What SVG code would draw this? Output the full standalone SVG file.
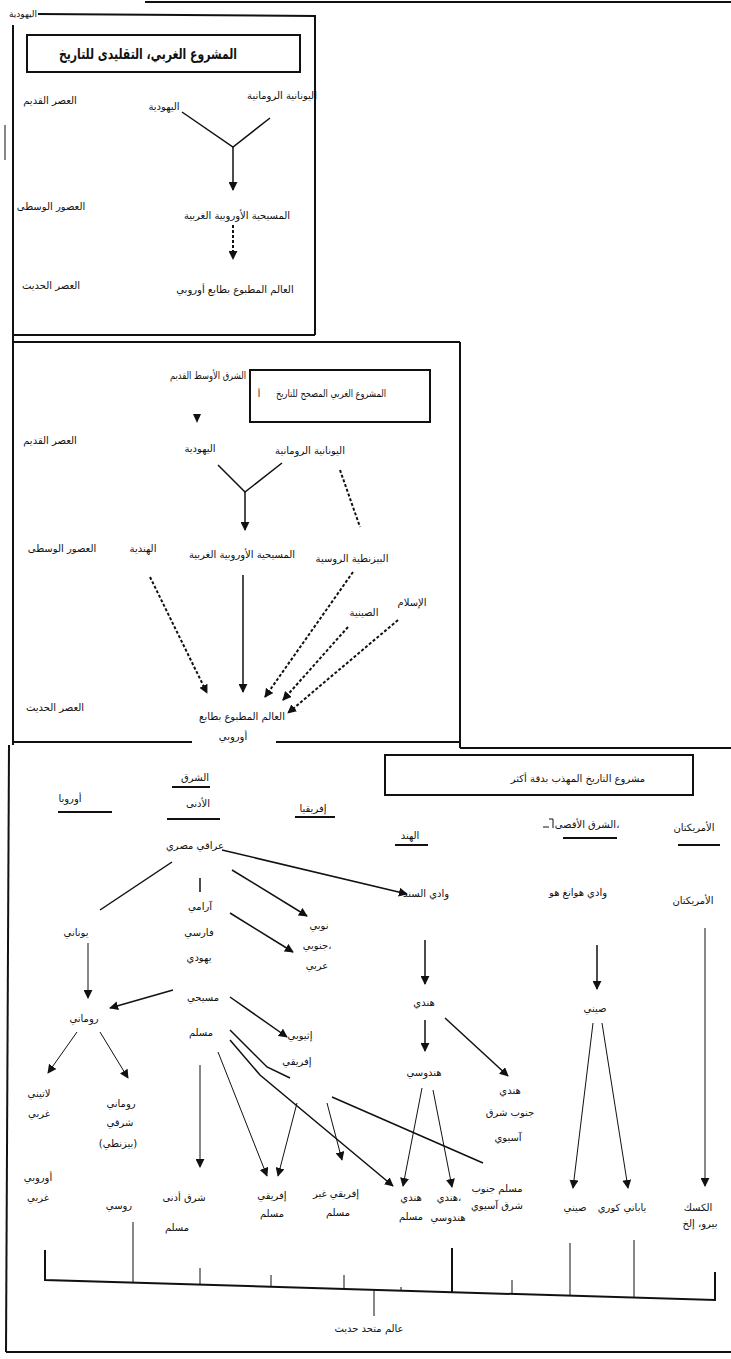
<svg xmlns="http://www.w3.org/2000/svg" width="731" height="1359" viewBox="0 0 731 1359">
<defs>
<style>
.t{font-family:"DejaVu Sans","Noto Sans",sans-serif;font-size:10px;fill:#111;text-anchor:middle}
.s{font-size:9px}
.ttl{font-size:15px;font-weight:bold}
.b{stroke:#111;stroke-width:2;fill:none}
.ln{stroke:#111;stroke-width:1.5;fill:none}
.thin{stroke:#111;stroke-width:1;fill:none}
.d{stroke-dasharray:3 2;stroke-width:2}
.ar{marker-end:url(#ah)}
</style>
<marker id="ah" viewBox="0 0 10 10" refX="9" refY="5" markerWidth="9" markerHeight="9" markerUnits="userSpaceOnUse" orient="auto">
<path d="M0,0 L10,5 L0,10 z" fill="#111"/>
</marker>
</defs>
<rect width="731" height="1359" fill="#fff"/>

<g id="frames">
<line class="b" x1="145" y1="2" x2="731" y2="2" stroke-width="3"/>
<polyline class="b" points="38,14 315,16 315,335"/>
<line class="b" x1="13" y1="25" x2="13" y2="745"/>
<line class="b" x1="13" y1="335" x2="315" y2="335"/>
<line class="thin" x1="5" y1="125" x2="5" y2="160"/>
<rect class="b" x="27" y="35" width="273" height="37"/>
<line class="b" x1="13" y1="342" x2="460" y2="342"/>
<line class="b" x1="460" y1="342" x2="460" y2="748"/>
<line class="b" x1="13" y1="742" x2="192" y2="742"/>
<line class="b" x1="276" y1="742" x2="460" y2="742"/>
<rect class="b" x="250" y="370" width="180" height="52"/>
<line class="b" x1="460" y1="748" x2="731" y2="748"/>
<line class="b" x1="9" y1="745" x2="6" y2="1352"/>
<line class="b" x1="6" y1="1352" x2="731" y2="1352"/>
<rect class="b" x="385" y="755" width="308" height="40"/>
</g>

<g id="top-panel">
<g id="n-yahud-top"><text class="t s" x="23" y="17">اليهودية</text></g>
<g id="n-title1"><text class="t ttl" x="148" y="59" textLength="178" lengthAdjust="spacingAndGlyphs">المشروع الغربي، التقليدى للتاريخ</text></g>
<g id="n-era1a"><text class="t" x="50" y="104">العصر القديم</text></g>
<g id="n-greco1"><text class="t" x="282" y="99">اليونانية الرومانية</text></g>
<g id="n-jud1"><text class="t" x="164" y="110">اليهودية</text></g>
<g id="n-era1b"><text class="t" x="51" y="210">العصور الوسطى</text></g>
<g id="n-chr1"><text class="t" x="237" y="219">المسيحية الأوروبية الغربية</text></g>
<g id="n-era1c"><text class="t" x="51" y="289">العصر الحديث</text></g>
<g id="n-world1"><text class="t" x="235" y="293">العالم المطبوع بطابع أوروبي</text></g>
</g>

<g id="middle-panel">
<g id="n-me"><text class="t" x="208" y="379" textLength="76" lengthAdjust="spacingAndGlyphs">الشرق الأوسط القديم</text></g>
<g id="n-title2"><text class="t" x="331" y="397" textLength="110" lengthAdjust="spacingAndGlyphs">المشروع الغربي المصحح للتاريخ</text><text class="t s" x="259" y="397">أ</text></g>
<g id="n-era2a"><text class="t" x="50" y="444">العصر القديم</text></g>
<g id="n-jud2"><text class="t" x="200" y="452">اليهودية</text></g>
<g id="n-greco2"><text class="t" x="310" y="454">اليونانية الرومانية</text></g>
<g id="n-era2b"><text class="t" x="62" y="552">العصور الوسطى</text></g>
<g id="n-ind2"><text class="t" x="143" y="552">الهندية</text></g>
<g id="n-chr2"><text class="t" x="242" y="558">المسيحية الأوروبية الغربية</text></g>
<g id="n-byz2"><text class="t" x="352" y="562">البيزنطية الروسية</text></g>
<g id="n-chn2"><text class="t" x="364" y="616">الصينية</text></g>
<g id="n-isl2"><text class="t" x="412" y="606">الإسلام</text></g>
<g id="n-era2c"><text class="t" x="55" y="711">العصر الحديث</text></g>
<g id="n-world2"><text class="t" x="242" y="720">العالم المطبوع بطابع</text><text class="t" x="233" y="740">أوروبي</text></g>
</g>

<g id="bottom-panel">
<g id="n-title3"><text class="t" x="578" y="782">مشروع التاريخ المهذب بدقة أكثر</text></g>
<g id="h-europe"><text class="t" x="70" y="802">أوروبا</text><line class="b" x1="58" y1="812" x2="112" y2="812"/></g>
<g id="h-neareast"><text class="t" x="195" y="781">الشرق</text><line class="b" x1="172" y1="787" x2="210" y2="787"/><text class="t" x="198" y="807">الأدنى</text><line class="b" x1="167" y1="819" x2="220" y2="819"/></g>
<g id="h-africa"><text class="t" x="313" y="812">إفريقيا</text><line class="b" x1="295" y1="817" x2="335" y2="817"/></g>
<g id="h-india"><text class="t" x="410" y="839">الهند</text><line class="b" x1="395" y1="845" x2="428" y2="845"/></g>
<g id="h-fareast"><text class="t" x="587" y="828" font-size="9.5">الشرق الأقصى،</text><line class="thin" x1="543" y1="827" x2="549" y2="827" stroke-width="2"/><polyline class="thin" points="549,819 553,819 553,828"/><line class="b" x1="563" y1="838" x2="617" y2="838"/></g>
<g id="h-americas"><text class="t" x="694" y="831">الأمريكتان</text><line class="b" x1="678" y1="845" x2="720" y2="845"/></g>

<g id="n-iraqi"><text class="t" x="195" y="849">عراقي مصري</text></g>
<g id="n-indus"><text class="t" x="426" y="897">وادي السند</text></g>
<g id="n-huang"><text class="t" x="578" y="896">وادي هوانغ هو</text></g>
<g id="n-amer"><text class="t" x="693" y="904">الأمريكتان</text></g>
<g id="n-aram"><text class="t" x="200" y="910">آرامي</text><text class="t" x="199" y="936">فارسي</text><text class="t" x="199" y="961">يهودي</text></g>
<g id="n-nubi"><text class="t" x="319" y="929">نوبي</text><text class="t" x="317" y="949">جنوبي،</text><text class="t" x="317" y="969">عربي</text></g>
<g id="n-greek"><text class="t" x="76" y="936">يوناني</text></g>
<g id="n-roman"><text class="t" x="84" y="1022">روماني</text></g>
<g id="n-chr3"><text class="t" x="203" y="1001">مسيحي</text></g>
<g id="n-mus3"><text class="t" x="201" y="1036">مسلم</text></g>
<g id="n-ethi"><text class="t" x="300" y="1039">إثيوبي</text></g>
<g id="n-afr"><text class="t" x="297" y="1065">إفريقي</text></g>
<g id="n-hindi"><text class="t" x="424" y="1006">هندي</text></g>
<g id="n-chin"><text class="t" x="595" y="1012">صيني</text></g>
<g id="n-hindu"><text class="t" x="424" y="1076">هندوسي</text></g>
<g id="n-hsea"><text class="t" x="510" y="1094">هندي</text><text class="t" x="510" y="1116">جنوب شرق</text><text class="t" x="508" y="1141">آسيوي</text></g>
<g id="n-latin"><text class="t" x="39" y="1097">لاتيني</text><text class="t" x="39" y="1117">غربي</text><text class="t" x="38" y="1181">أوروبي</text><text class="t" x="38" y="1201">غربي</text></g>
<g id="n-eroman"><text class="t" x="121" y="1107">روماني</text><text class="t" x="120" y="1126">شرقي</text><text class="t" x="118" y="1147">(بيزنطي)</text></g>
<g id="n-russ"><text class="t" x="119" y="1209">روسي</text></g>
<g id="n-nemus"><text class="t" x="184" y="1201">شرق أدنى</text><text class="t" x="177" y="1231">مسلم</text></g>
<g id="n-afrmus"><text class="t" x="272" y="1199">إفريقي</text><text class="t" x="272" y="1217">مسلم</text></g>
<g id="n-afrnon"><text class="t" x="336" y="1197">إفريقي غير</text><text class="t" x="338" y="1216">مسلم</text></g>
<g id="n-indmus"><text class="t" x="411" y="1201">هندي</text><text class="t" x="411" y="1220">مسلم</text></g>
<g id="n-indhin"><text class="t" x="449" y="1201">هندي،</text><text class="t" x="448" y="1221">هندوسي</text></g>
<g id="n-seamus"><text class="t" x="497" y="1192">مسلم جنوب</text><text class="t" x="497" y="1209">شرق آسيوي</text></g>
<g id="n-chin2"><text class="t" x="575" y="1211">صيني</text></g>
<g id="n-jap"><text class="t" x="622" y="1211">ياباني كوري</text></g>
<g id="n-mex"><text class="t" x="698" y="1211">الكسك</text><text class="t" x="700" y="1227">بيرو، إلخ</text></g>
<g id="n-unified"><text class="t" x="369" y="1332">عالم متحد حديث</text></g>
</g>

<g id="connectors">
<polyline class="ln" points="182,112 233,147 270,118"/>
<line class="ln ar" x1="233" y1="147" x2="233" y2="190"/>
<line class="ln d ar" x1="233" y1="225" x2="233" y2="259"/>

<polygon points="193,414 201,414 197,423" fill="#111"/>
<polyline class="ln" points="218,465 245,492 282,463"/>
<line class="ln ar" x1="245" y1="492" x2="245" y2="530"/>
<line class="ln d" x1="340" y1="470" x2="360" y2="527"/>
<line class="ln d ar" x1="150" y1="577" x2="207" y2="693"/>
<line class="ln ar" x1="243" y1="575" x2="243" y2="692"/>
<line class="ln d ar" x1="353" y1="572" x2="265" y2="697"/>
<line class="ln d ar" x1="348" y1="627" x2="283" y2="700"/>
<line class="ln d ar" x1="398" y1="620" x2="288" y2="713"/>

<line class="ln ar" x1="222" y1="850" x2="407" y2="894"/>
<line class="ln" x1="172" y1="862" x2="100" y2="910"/>
<line class="ln" x1="200" y1="878" x2="200" y2="892"/>
<line class="ln ar" x1="232" y1="870" x2="307" y2="916"/>
<line class="ln ar" x1="230" y1="913" x2="293" y2="952"/>
<line class="thin ar" x1="88" y1="943" x2="88" y2="998"/>
<line class="ln ar" x1="173" y1="990" x2="110" y2="1008"/>
<line class="ln ar" x1="230" y1="997" x2="287" y2="1037"/>
<polyline class="ln" points="230,1030 267,1067 290,1078"/>
<polyline class="ln ar" points="230,1040 260,1075 393,1186"/>
<line class="thin ar" x1="218" y1="1052" x2="267" y2="1176"/>
<line class="thin ar" x1="297" y1="1103" x2="278" y2="1176"/>
<line class="thin ar" x1="327" y1="1103" x2="342" y2="1160"/>
<line class="ln" x1="332" y1="1097" x2="483" y2="1163"/>
<line class="thin ar" x1="200" y1="1065" x2="200" y2="1167"/>
<line class="thin ar" x1="77" y1="1032" x2="48" y2="1073"/>
<line class="thin ar" x1="100" y1="1032" x2="128" y2="1078"/>
<line class="ln ar" x1="425" y1="940" x2="425" y2="984"/>
<line class="ln ar" x1="425" y1="1020" x2="425" y2="1051"/>
<line class="ln ar" x1="445" y1="1018" x2="508" y2="1076"/>
<line class="thin ar" x1="422" y1="1088" x2="403" y2="1186"/>
<line class="thin ar" x1="433" y1="1090" x2="452" y2="1187"/>
<line class="ln ar" x1="597" y1="945" x2="597" y2="989"/>
<line class="thin ar" x1="593" y1="1023" x2="573" y2="1188"/>
<line class="thin ar" x1="602" y1="1023" x2="628" y2="1188"/>
<line class="thin ar" x1="705" y1="928" x2="705" y2="1186"/>

<polyline class="b" points="45,1250 45,1280 715,1300 715,1272"/>
<line class="thin" x1="133" y1="1222" x2="133" y2="1283"/>
<line class="thin" x1="200" y1="1268" x2="200" y2="1285"/>
<line class="thin" x1="271" y1="1275" x2="271" y2="1287"/>
<line class="thin" x1="344" y1="1275" x2="344" y2="1289"/>
<line class="thin" x1="401" y1="1287" x2="401" y2="1291"/>
<line class="b" x1="452" y1="1248" x2="452" y2="1292" stroke-width="3"/>
<line class="thin" x1="512" y1="1280" x2="512" y2="1294"/>
<line class="thin" x1="570" y1="1243" x2="570" y2="1296"/>
<line class="thin" x1="634" y1="1240" x2="634" y2="1298"/>
<line class="thin" x1="374" y1="1290" x2="374" y2="1316"/>
</g>
</svg>
